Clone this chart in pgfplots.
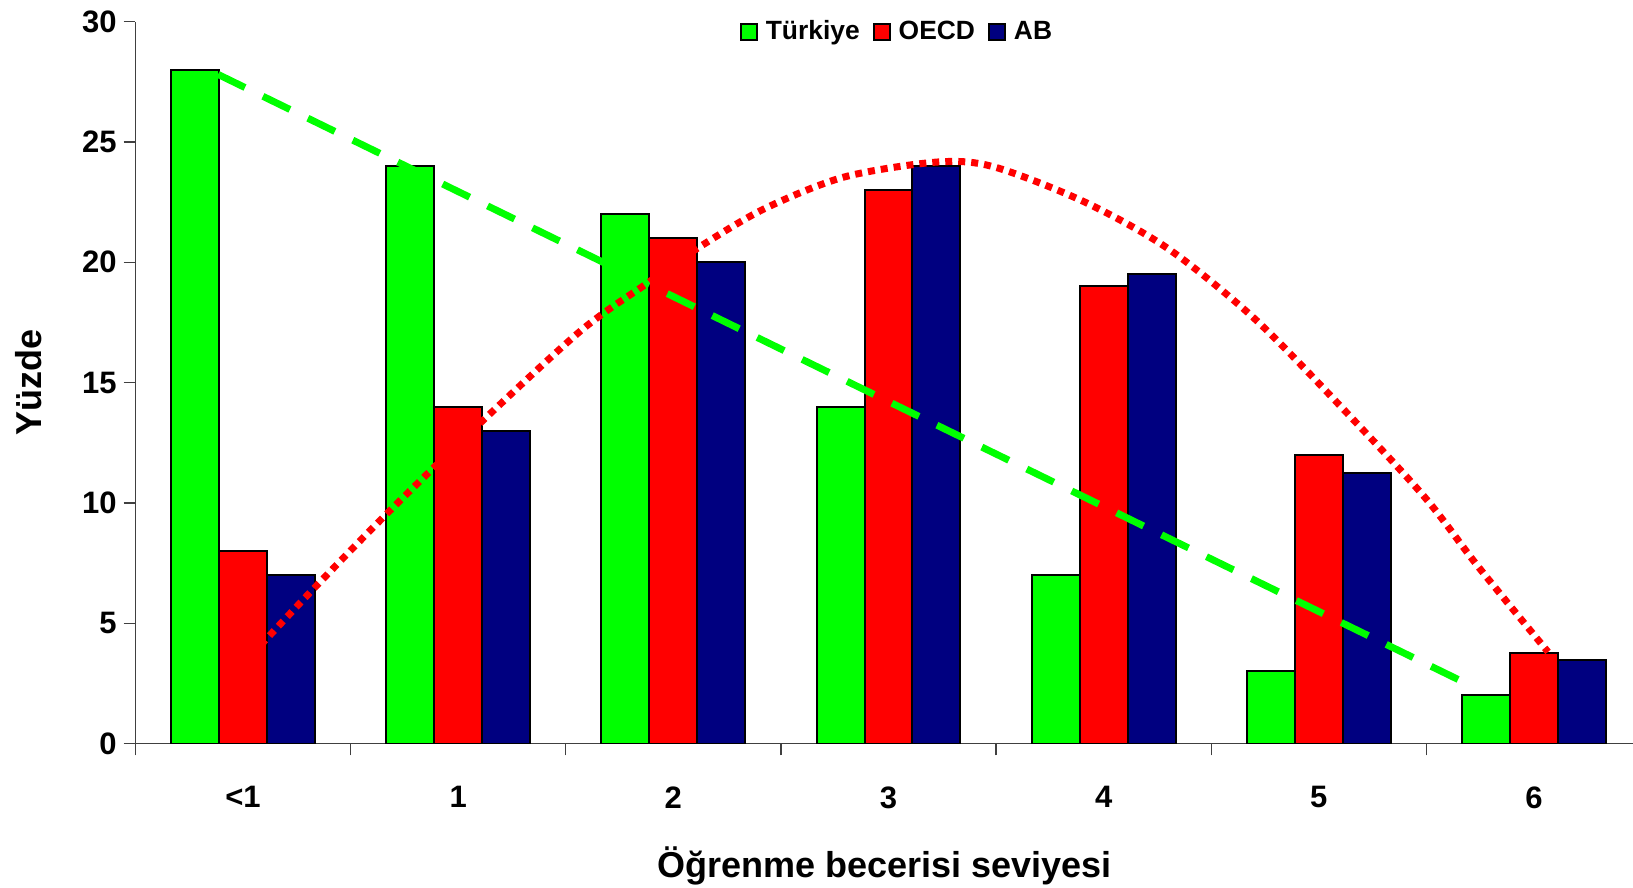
\documentclass[border=0pt]{standalone}
\usepackage{fontspec}
\setmainfont{Liberation Sans}
\usepackage{pgfplots}
\usepackage{pgfplotstable}
\pgfplotsset{compat=1.18}
\definecolor{tgreen}{RGB}{0,255,0}
\definecolor{tred}{RGB}{255,0,0}
\definecolor{tnavy}{RGB}{0,0,128}

\pgfplotstableread{
k tur oecd ab
0 28 8 7
1 24 14 13
2 22 21 20
3 14 23 24
4 7 19 19.5
5 3 12 11.25
6 2 3.75 3.47
}\datatable

\begin{document}
\begin{tikzpicture}
\begin{axis}[
  name=ax,
  scale only axis,
  width=748.9pt, height=361pt,
  xmin=-0.5, xmax=6.46, ymin=0, ymax=30,
  axis x line=bottom, axis y line=left,
  axis line style={-, black!75, line width=0.7pt},
  every tick/.style={black!75, line width=0.7pt},
  tick align=outside,
  major tick length=5.85pt,
  ytick={0,5,...,30},
  xtick={-0.5,0.5,...,5.5},
  xticklabels={\null,\null,\null,\null,\null,\null,\null,\null},
  extra x ticks={0,1,2,3,4,5,6},
  extra x tick labels={{<1},1,2,3,4,5,6},
  extra x tick style={major tick length=0pt, tick style={draw=none}},
  xticklabel style={yshift=-18pt},
  /pgf/number format/assume math mode=true,
  tick label style={font=\fontsize{15.5}{18}\selectfont\bfseries},
  xlabel={Öğrenme becerisi seviyesi},
  ylabel={Yüzde},
  label style={font=\fontsize{18}{21}\selectfont\bfseries},
  xlabel style={at={(axis description cs:0.5,0)}, anchor=base, yshift=-66.75pt},
  ylabel style={at={(axis description cs:-0.06236,0.5)}, anchor=base, rotate=0},
  legend style={at={(axis description cs:0.5092,0.9863)}, anchor=center,
    draw=none, fill=none, legend columns=-1,
    font=\fontsize{13.2}{15}\selectfont\bfseries,
    /tikz/every even column/.append style={column sep=4.5pt}},
  legend image code/.code={\draw[#1, draw=black, line width=1pt] (0pt,-4pt) rectangle (8pt,4pt); \path[draw=none, fill=none] (0pt,0pt) rectangle (10.5pt,0.1pt);},
]
\addplot[ybar, bar width=0.223, bar shift=-0.223, fill=tgreen, draw=black, line width=1pt] table[x=k,y=tur]{\datatable};
\addlegendentry{Türkiye}
\addplot[ybar, bar width=0.223, bar shift=0, fill=tred, draw=black, line width=1pt] table[x=k,y=oecd]{\datatable};
\addlegendentry{OECD}
\addplot[ybar, bar width=0.223, bar shift=0.223, fill=tnavy, draw=black, line width=1pt] table[x=k,y=ab]{\datatable};
\addlegendentry{AB}
\addplot[forget plot, no markers, tgreen, line width=3.5pt, dash pattern=on 15pt off 10pt] coordinates {(-0.116,27.81) (5.685,2.50)};
\addplot[forget plot, no markers, tred, line width=3.5pt, dash pattern=on 3.5pt off 3pt, smooth] coordinates {
(0.0,3.3) (0.318,6.34) (0.676,9.62) (1.10,13.3) (1.573,17.18) (1.882,19.15) (2.115,20.6) (2.424,22.23)
(2.796,23.55) (3.230,24.17) (3.493,23.96) (3.911,22.51) (4.299,20.57) (4.701,17.66)
(5.104,13.99) (5.491,10.25) (5.739,7.37) (6.065,3.81)};
\end{axis}
\pgfresetboundingbox
\path ([shift={(-67.7pt,-71.75pt)}]ax.south west) rectangle ([shift={(0pt,10.85pt)}]ax.north east);
\end{tikzpicture}
\end{document}
